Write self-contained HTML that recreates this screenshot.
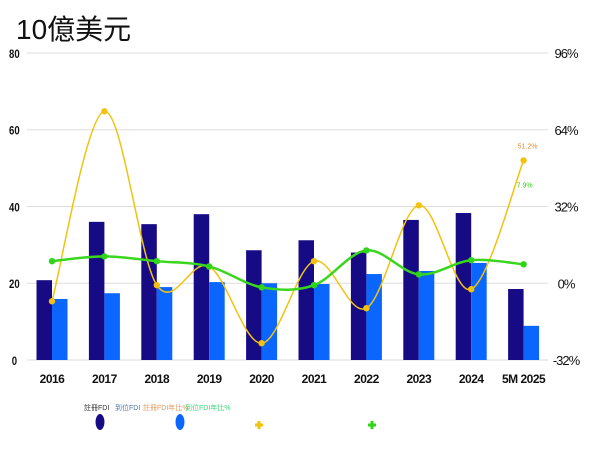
<!DOCTYPE html>
<html><head><meta charset="utf-8"><style>
body{margin:0;background:#fff;width:600px;height:450px;overflow:hidden;font-family:"Liberation Sans","Noto Sans CJK TC",sans-serif}
svg text{font-family:"Liberation Sans","Noto Sans CJK TC",sans-serif}
</style></head><body>
<svg id="c" width="600" height="450">
<text x="16" y="39" font-size="28" fill="#111">10億美元</text>
<g id="g"></g>
</svg>
<script>
const categories=["2016","2017","2018","2019","2020","2021","2022","2023","2024","5M 2025"];
const contractedFDI=[20.8,36,35.4,38,28.6,31.2,28,36.5,38.3,18.5];
const disbursedFDI=[15.9,17.4,19,20.3,20,19.8,22.4,23.2,25.3,8.9];
const contractedYoY=[-7.5,71.7,-0.8,7,-25,9.2,-10.4,32.5,-2.5,51.2];
const disbursedYoY=[9.2,11.2,9.2,7,-1.7,-0.8,13.7,3.7,9.6,7.9];
const leftTicks=[0,20,40,60,80];
const rightTicks=[-32,0,32,64,96];
const NS="http://www.w3.org/2000/svg",g=document.getElementById('g');
const X0=27,X1=548,Y0=360,Y1=53;
const yL=v=>Y0-(v/80)*(Y0-Y1);
const yR=v=>Y0-((v+32)/128)*(Y0-Y1);
const step=52.4;
const xC=i=>52+i*step;
function el(t,a){const e=document.createElementNS(NS,t);for(const k in a)e.setAttribute(k,a[k]);g.appendChild(e);return e;}
leftTicks.forEach(v=>{
 const l=el('line',{x1:X0,x2:X1,y1:yL(v),y2:yL(v),stroke:'#ddd','stroke-width':1});
 
 
 const t=el('text',{x:15,y:yL(v)+5,'font-size':12,'font-weight':'bold','text-anchor':'middle',fill:'#111',transform:`scale(0.8,1) translate(3,0)`});
 t.textContent=v;
 
 
});
rightTicks.forEach(v=>{
 const t=el('text',{x:566,y:yR(v)+5,'font-size':13,'text-anchor':'middle',fill:'#111',style:'letter-spacing:-1px'});
 t.textContent=v+'%';
 
 
});
categories.forEach((c,i)=>{
 const b1=el('rect',{x:xC(i)-15.5,y:yL(contractedFDI[i]),width:15.5,height:Y0-yL(contractedFDI[i]),fill:'#170b85'});
 
 
 const b2=el('rect',{x:xC(i),y:yL(disbursedFDI[i]),width:15.5,height:Y0-yL(disbursedFDI[i]),fill:'#0a66ff'});
 
 
 const t=el('text',{x:xC(i),y:383,'font-size':12,'font-weight':'bold','text-anchor':'middle',fill:'#111',style:'letter-spacing:-0.5px'});
 t.textContent=c;
 
 
});
function smooth(vals,f){
 const p=vals.map((v,i)=>[xC(i),f(v)]);let d=`M${p[0][0]},${p[0][1]}`;
 for(let i=0;i<p.length-1;i++){const a=p[i-1]||p[i],b=p[i],c=p[i+1],e=p[i+2]||c;
  d+=` C${b[0]+(c[0]-a[0])/6},${b[1]+(c[1]-a[1])/6} ${c[0]-(e[0]-b[0])/6},${c[1]-(e[1]-b[1])/6} ${c[0]},${c[1]}`;}
 return d;}
const l1=el('path',{d:smooth(contractedYoY,yR),fill:'none',stroke:'#f2c20f','stroke-width':1.5});


const l2=el('path',{d:smooth(disbursedYoY,yR),fill:'none',stroke:'#3ad61e','stroke-width':2.5});


contractedYoY.forEach((v,i)=>{const m=el('circle',{cx:xC(i),cy:yR(v),r:3.2,fill:'#f2c20f'});
 
 });
disbursedYoY.forEach((v,i)=>{const m=el('circle',{cx:xC(i),cy:yR(v),r:3.2,fill:'#2ed617'});
 
 });
const n=categories.length-1;
const v1=el('text',{x:xC(n)+4,y:yR(contractedYoY[n])-12,'font-size':7,fill:'#e08a3a','text-anchor':'middle'});
v1.textContent=contractedYoY[n]+'%';


const v2=el('text',{x:xC(n)+1,y:yR(disbursedYoY[n])-77,'font-size':7,fill:'#2ed617','text-anchor':'middle'});
v2.textContent=disbursedYoY[n]+'%';


</script>
<svg style="position:absolute;left:0;top:0" width="600" height="450">
<g><text x="84" y="410" font-size="7" fill="#333">註冊FDI</text><ellipse cx="100" cy="422" rx="4.5" ry="8" fill="#170b85"/></g>
<g><text x="115" y="410" font-size="7" fill="#5577aa">到位FDI</text><ellipse cx="180" cy="422" rx="4.5" ry="8" fill="#0a66ff"/></g>
<g><text x="143" y="410" font-size="7" fill="#e09a60">註冊FDI年比%</text><path d="M255,425h8M259,421v8" stroke="#f2c20f" stroke-width="3"/></g>
<g><text x="185" y="410" font-size="7" fill="#3ad67a">到位FDI年比%</text><path d="M368,425h8M372,421v8" stroke="#2ed617" stroke-width="3"/></g>
</svg>
</body></html>
